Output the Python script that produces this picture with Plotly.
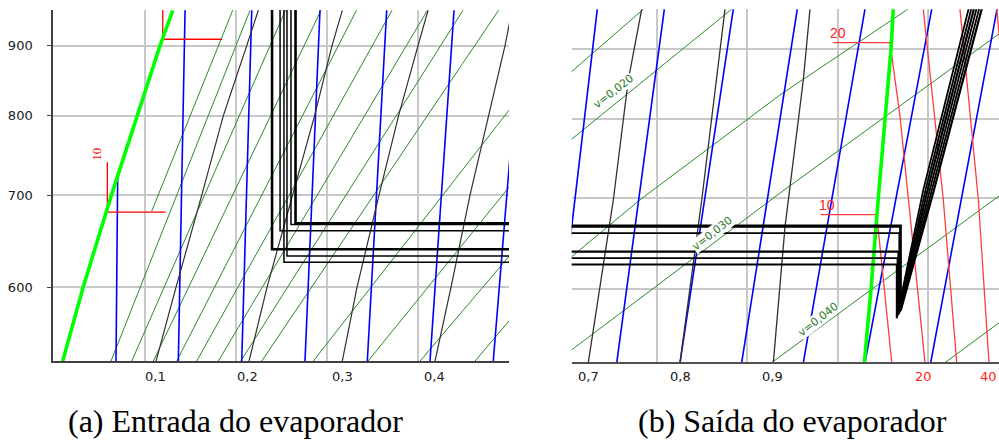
import math
import plotly.graph_objects as go

# ================= DATA (h: enthalpy-like abscissa, p: pressure, log scale) =================
# ---- panel (a) Entrada do evaporador ----
sat_liq_h = [220.95, 223.2, 226.3, 229.15, 231.65, 233.05]
sat_liq_p = [530, 600, 700, 800, 900, 955]

iso_liq_h = [[231.95, 231.95, 238.45], [225.86, 225.86, 232.27]]
iso_liq_p = [[975, 909.7, 909.7], [740.0, 680.7, 680.7]]

blue_a_h = [[227.0, 226.81], [234.40, 233.66], [241.73, 240.63], [249.23, 247.58],
            [256.56, 254.43], [263.96, 261.32], [271.42, 268.27]]
blue_a_p = [[726.4, 530], [955, 530], [955, 530], [955, 530],
            [955, 530], [955, 530], [955, 530]]

qual_a_p = [530, 600, 700, 800, 900, 955]
qual_a_h = [[231.21, 233.41, 236.23, 238.60, 241.18, 242.45],
            [241.43, 243.41, 246.21, 248.63, 250.55, 251.68],
            [251.68, 253.30, 255.71, 257.86, 260.00, 261.10],
            [261.87, 263.63, 265.71, 267.75, 269.56, 270.33]]
qual_a_labels = ["0,1", "0,2", "0,3", "0,4"]
qual_a_label_h = [231.2, 241.3, 251.65, 261.76]

# isochores (two-phase region): bottom h at 530, top h at 955 (lines leaving right side extended)
green_a_h = [[230.74, 239.64],
             [226.26, 241.54], [228.54, 245.44], [230.91, 249.34], [233.48, 253.24],
             [235.68, 257.14], [238.05, 261.04], [240.52, 264.95], [242.82, 268.85],
             [248.49, 278.57], [254.51, 285.76], [260.22, 292.97], [266.26, 299.0]]
green_a_p = [[681.9, 955]] + [[530, 955]] * 12

# ---- panel (b) Saida do evaporador ----
sat_vap_h = [412.97, 413.71, 414.52, 415.26, 415.93, 416.18]
sat_vap_p = [530, 600, 700, 800, 900, 963]

blue_b_h = [[383.34, 378.73], [390.78, 385.50], [398.43, 392.52], [405.53, 399.36],
            [413.04, 406.20], [420.45, 413.04], [427.69, 420.33]]
blue_b_p = [[963, 530]] * 7

qual_b_h = [[382.34, 385.12, 386.78, 388.27],
            [392.52, 394.93, 397.51],
            [402.87, 404.17, 406.20, 406.94]]
qual_b_p = [[530, 697.9, 854.6, 963],
            [530, 697.9, 963],
            [530, 666.9, 854.6, 963]]
qual_b_labels = ["0,7", "0,8", "0,9"]
qual_b_label_h = [382.31, 392.52, 402.73]

green_b_h = [[379.20, 388.45],
             [379.20, 398.25],
             [379.20, 380.50, 388.08, 403.61, 417.67, 418.59],
             [379.20, 380.50, 403.61, 428.02],
             [402.69, 427.83, 429.13],
             [421.92, 427.83, 429.13]]
green_b_p = [[851.8, 963],
             [760.8, 963],
             [623.6, 633.9, 697.9, 833.1, 961.7, 973.2],
             [533.6, 541.6, 705.8, 924.7],
             [530, 701.8, 712.0],
             [530, 566.5, 574.7]]
vol_labels = ["v=0,020", "v=0,030", "v=0,040"]
vol_label_h = [385.12, 396.10, 407.86]
vol_label_p = [837.8, 658.7, 569.7]

red_b_h = [[408.13, 414.34, 415.19, 416.01],
           [409.53, 415.82, 416.93, 417.85, 418.78, 419.70],
           [419.51, 421.73, 423.22],
           [423.58, 425.62, 426.80],
           [427.66, 429.13]]
red_b_p = [[680.5, 680.5, 600, 530],
           [910, 910, 803.1, 697.9, 606.1, 530],
           [963, 697.9, 530],
           [963, 697.9, 530],
           [963, 761.8]]
temp_top_labels = ["10", "20"]
temp_top_h = [408.80, 410.08]
temp_top_p = [691.8, 924.7]
temp_bottom_labels = ["20", "40"]
temp_bottom_h = [419.48, 426.69]

# ---- refrigeration cycles (shared by both panels) ----
valve_h = [243.96, 244.84, 245.27, 245.60, 246.04, 246.54]
evap_p = [639.4, 659.7, 625.6, 632.3, 666.6, 668.0]
outlet_h = [416.76, 416.85, 416.56, 416.65, 416.93, 417.01]
suction_p = [575.1, 576.3, 571.3, 573.8, 577.6, 578.9]
mid_p = 709.7
mid_h = [419.99, 420.24, 419.51, 419.76, 420.47, 420.70]
discharge_h = [425.75, 426.04, 425.15, 425.45, 426.34, 426.64]
cond_p = 1000
cycle_width = [2.6, 1.5, 1.5, 1.5, 1.5, 2.6]

# ================= FIGURE =================
fig = go.Figure()


def add_lines(hs, ps, color, width, xa, ya):
    X, Y = [], []
    for h, p in zip(hs, ps):
        X += list(h) + [None]
        Y += list(p) + [None]
    fig.add_trace(go.Scatter(x=X, y=Y, mode="lines", line=dict(color=color, width=width),
                             xaxis=xa, yaxis=ya, hoverinfo="skip", showlegend=False))


GREEN_T = "#2b8a2b"
BLUE = "#0000ff"
QCOL = "#303030"

# panel a
add_lines(green_a_h, green_a_p, GREEN_T, 1, "x", "y")
add_lines(blue_a_h, blue_a_p, BLUE, 1.6, "x", "y")
add_lines(qual_a_h, [qual_a_p] * len(qual_a_h), QCOL, 1.2, "x", "y")
add_lines(iso_liq_h, iso_liq_p, "#ff0000", 1.3, "x", "y")
add_lines([sat_liq_h], [sat_liq_p], "#00ff00", 3.6, "x", "y")

# panel b
add_lines(green_b_h, green_b_p, GREEN_T, 1, "x2", "y2")
add_lines(blue_b_h, blue_b_p, BLUE, 1.6, "x2", "y2")
add_lines(qual_b_h, qual_b_p, QCOL, 1.3, "x2", "y2")
add_lines(red_b_h, red_b_p, "#ff3c3c", 1.3, "x2", "y2")
add_lines([sat_vap_h], [sat_vap_p], "#00ff00", 3.6, "x2", "y2")

# cycles in both panels
for i in range(len(valve_h)):
    ch = [valve_h[i], valve_h[i], outlet_h[i], outlet_h[i], mid_h[i], discharge_h[i]]
    cp = [cond_p, evap_p[i], evap_p[i], suction_p[i], mid_p, cond_p]
    add_lines([ch], [cp], "#000000", cycle_width[i], "x", "y")
    add_lines([ch], [cp], "#000000", 2.2 if cycle_width[i] > 2 else 1.8, "x2", "y2")

ann = []
TICKFONT = dict(family="DejaVu Sans", size=13, color="#202020")
YLAB = 1 - 376 / 441
for t, h in zip(qual_a_labels, qual_a_label_h):
    ann.append(dict(x=h, y=YLAB, xref="x", yref="paper", text=t, showarrow=False,
                    xanchor="center", yanchor="middle", font=TICKFONT))
for t, h in zip(qual_b_labels, qual_b_label_h):
    ann.append(dict(x=h, y=YLAB, xref="x2", yref="paper", text=t, showarrow=False,
                    xanchor="center", yanchor="middle", font=TICKFONT))
for t, h in zip(temp_bottom_labels, temp_bottom_h):
    ann.append(dict(x=h, y=YLAB, xref="x2", yref="paper", text=t, showarrow=False,
                    xanchor="center", yanchor="middle",
                    font=dict(family="DejaVu Sans", size=13, color="#ff2020")))
for t, h, p in zip(temp_top_labels, temp_top_h, temp_top_p):
    ann.append(dict(x=h, y=math.log10(p), xref="x2", yref="y2", text=t, showarrow=False,
                    xanchor="center", yanchor="middle",
                    font=dict(family="Liberation Sans", size=14, color="#ff2020")))
ann.append(dict(x=224.69, y=math.log10(750.4), xref="x", yref="y", text="10", textangle=-90,
                showarrow=False, xanchor="center", yanchor="middle",
                font=dict(family="Liberation Serif", size=13, color="#ff0000")))
for t, h, p in zip(vol_labels, vol_label_h, vol_label_p):
    ann.append(dict(x=h, y=math.log10(p), xref="x2", yref="y2", text=t, textangle=-38,
                    showarrow=False, bgcolor="white", borderpad=0,
                    xanchor="center", yanchor="middle",
                    font=dict(family="DejaVu Sans", size=11, color="#1f7a1f")))
CAP = dict(family="Liberation Serif", size=32, color="black")
ann.append(dict(x=235 / 999, y=1 - 421 / 441, xref="paper", yref="paper",
                xanchor="center", yanchor="middle",
                text="(a) Entrada do evaporador", showarrow=False, font=CAP))
ann.append(dict(x=792 / 999, y=1 - 421 / 441, xref="paper", yref="paper",
                xanchor="center", yanchor="middle",
                text="(b) Saída do evaporador", showarrow=False, font=CAP))

GRID = "#c8c8c8"
fig.update_layout(
    width=999, height=441, margin=dict(l=0, r=0, t=0, b=0),
    paper_bgcolor="white", plot_bgcolor="white", showlegend=False,
    annotations=ann,
    xaxis=dict(domain=[53.3 / 999, 509 / 999], range=[219.92, 270.0],
               tickvals=[230, 240, 250, 260], showticklabels=False, ticks="",
               showgrid=True, gridcolor=GRID, gridwidth=1.5, zeroline=False,
               showline=True, linecolor="#404040", linewidth=2, anchor="y"),
    yaxis=dict(domain=[1 - 361 / 441, 1 - 10 / 441], type="log",
               range=[math.log10(530.1), math.log10(955.5)],
               tickvals=[600, 700, 800, 900], ticktext=["600", "700", "800", "900"],
               ticks="outside", ticklen=4, tickcolor="#404040", tickfont=TICKFONT,
               ticklabelstandoff=12,
               showgrid=True, gridcolor=GRID, gridwidth=1.5, zeroline=False,
               showline=True, linecolor="#404040", linewidth=2, anchor="x"),
    xaxis2=dict(domain=[571.7 / 999, 1.0], range=[380.50, 427.91],
                tickvals=[390, 400, 410, 420], showticklabels=False, ticks="",
                showgrid=True, gridcolor=GRID, gridwidth=1.5, zeroline=False,
                showline=True, linecolor="#505050", linewidth=2, anchor="y2"),
    yaxis2=dict(domain=[1 - 362.3 / 441, 1 - 9.3 / 441], type="log",
                range=[math.log10(530.3), math.log10(962.8)],
                tickvals=[600, 700, 800, 900], showticklabels=False, ticks="",
                showgrid=True, gridcolor=GRID, gridwidth=1.5, zeroline=False,
                showline=False, anchor="x2"),
)

fig.write_html("out.html")
